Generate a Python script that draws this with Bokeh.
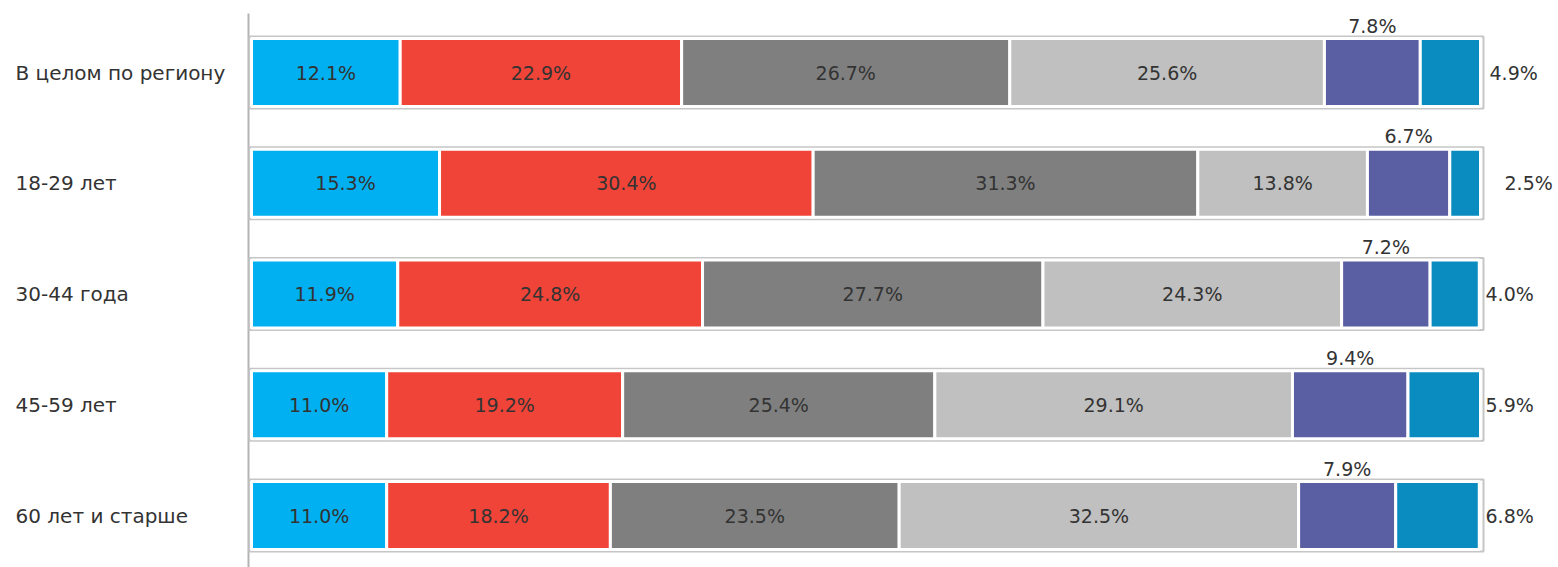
from bokeh.plotting import figure
from bokeh.models import ColumnDataSource, Range1d
from bokeh.core.properties import value
from bokeh.embed import file_html
from bokeh.resources import INLINE

# ---------------- data ----------------
categories = ["В целом по региону", "18-29 лет", "30-44 года", "45-59 лет", "60 лет и старше"]
s1 = [12.1, 15.3, 11.9, 11.0, 11.0]
s2 = [22.9, 30.4, 24.8, 19.2, 18.2]
s3 = [26.7, 31.3, 27.7, 25.4, 23.5]
s4 = [25.6, 13.8, 24.3, 29.1, 32.5]
s5 = [7.8, 6.7, 7.2, 9.4, 7.9]
s6 = [4.9, 2.5, 4.0, 5.9, 6.8]
series = [s1, s2, s3, s4, s5, s6]
colors = ["#00b0f0", "#f04438", "#7f7f7f", "#c0c0c0", "#5a5ea3", "#0b8cc0"]

# ---------------- layout constants ----------------
W, H = 1558, 567
PX_PER_PCT = 12.29          # horizontal scale
ROW_PX = 110.75             # vertical spacing between bars
u = 1.0 / PX_PER_PCT        # data units per px (x)
v = 1.0 / ROW_PX            # data units per px (y)
zero_px = 251               # frame x of 0 %
first_row_px = 72           # frame y of first row centre

n = len(categories)
rows = list(range(n))

y_bottom = (n - 1) + (H - first_row_px - (n - 1) * ROW_PX) * v
y_top = -first_row_px * v

p = figure(width=W, height=H, output_backend="svg", toolbar_location=None,
           x_range=Range1d(-zero_px * u, (W - zero_px) * u),
           y_range=Range1d(y_bottom, y_top),
           min_border=0)
p.axis.visible = False
p.grid.visible = False
p.outline_line_color = None
p.background_fill_color = "white"
p.border_fill_color = "white"

# y axis line (starts a little below the top edge)
p.segment(x0=[-3 * u], y0=[y_top + 13 * v], x1=[-3 * u], y1=[y_bottom],
          line_color="#b4b4b4", line_width=2)

# outer box per bar
box_half = 36 * v
p.quad(left=[-2 * u] * n, right=[100 + 3 * u] * n,
       top=[r - box_half for r in rows], bottom=[r + box_half for r in rows],
       fill_color="white", line_color="#c6c6c6", line_width=2)

font = value("DejaVu Sans")
txt_color = "#333333"
fs = "19px"

cum = [0.0] * n
for j, (vals, col) in enumerate(zip(series, colors)):
    left = cum[:]
    right = [a + b for a, b in zip(cum, vals)]
    src = ColumnDataSource(dict(y=rows, left=left, right=right,
                                mid=[(a + b) / 2 for a, b in zip(left, right)],
                                lab=[f"{x:.1f}%" for x in vals]))
    p.hbar(y="y", left="left", right="right", height=68 * v, source=src,
           fill_color=col, line_color="white", line_width=3)
    if j < 4:
        p.text(x="mid", y="y", text="lab", source=src, text_align="center",
               text_baseline="middle", text_font=font, text_font_size=fs, text_color=txt_color)
    elif j == 4:
        src.data["ytop"] = [r - box_half for r in rows]
        p.text(x="mid", y="ytop", text="lab", source=src, text_align="center",
               text_baseline="bottom", text_font=font, text_font_size=fs, text_color=txt_color)
    else:
        src.data["xr"] = [100 + 3 * u] * n
        src.data["dx"] = [6, 21, 2, 2, 2]
        p.text(x="xr", y="y", text="lab", source=src, x_offset="dx", text_align="left",
               text_baseline="middle", text_font=font, text_font_size=fs, text_color=txt_color)
    cum = right

# category labels (left aligned)
cat_src = ColumnDataSource(dict(x=[-236 * u] * n, y=rows, t=categories))
p.text(x="x", y="y", text="t", source=cat_src, text_align="left", text_baseline="middle",
       text_font=font, text_font_size="20px", text_color=txt_color)

open("out.html", "w").write(file_html(p, INLINE))
